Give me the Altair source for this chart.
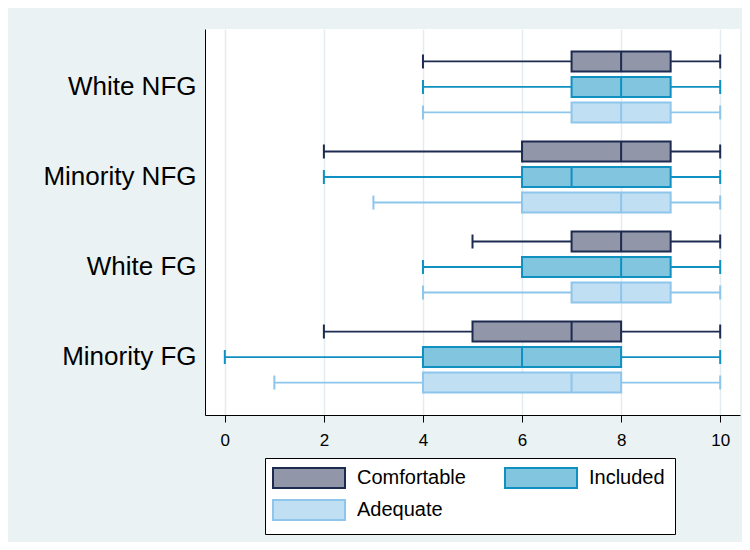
import altair as alt
import pandas as pd

groups = ["White NFG", "Minority NFG", "White FG", "Minority FG"]
measures = ["Comfortable", "Included", "Adequate"]

# per group (rows) and measure (columns: Comfortable, Included, Adequate)
lo_whisker = [[4, 4, 4], [2, 2, 3], [5, 4, 4], [2, 0, 1]]
q1 = [[7, 7, 7], [6, 6, 6], [7, 6, 7], [5, 4, 4]]
median = [[8, 8, 8], [8, 7, 8], [8, 8, 8], [7, 6, 7]]
q3 = [[9, 9, 9], [9, 9, 9], [9, 9, 9], [8, 8, 8]]
hi_whisker = [[10, 10, 10], [10, 10, 10], [10, 10, 10], [10, 10, 10]]

x_ticks = [0, 2, 4, 6, 8, 10]

fill_colors = ["#9196a9", "#82c5df", "#c1dff3"]
stroke_colors = ["#1d2b50", "#0f90c0", "#8ec5eb"]

rows = []
for gi, g in enumerate(groups):
    for mi, m in enumerate(measures):
        rows.append({
            "group": g, "measure": m, "line_measure": m,
            "lo": lo_whisker[gi][mi], "q1": q1[gi][mi], "median": median[gi][mi],
            "q3": q3[gi][mi], "hi": hi_whisker[gi][mi],
        })
df = pd.DataFrame(rows)

FONT = "Liberation Sans"

y_enc = alt.Y("group:N", sort=groups, title=None,
              scale=alt.Scale(paddingInner=0, paddingOuter=0.144))
yoff_enc = alt.YOffset("measure:N", sort=measures,
                       scale=alt.Scale(paddingInner=0, paddingOuter=0.265))
x_scale = alt.Scale(domain=[-0.4, 10.4], nice=False, zero=False)
x_axis = alt.Axis(values=x_ticks, labelFontSize=17)

line_color = alt.Color("line_measure:N", sort=measures,
                       scale=alt.Scale(range=stroke_colors), legend=None)

base = alt.Chart(df)

whiskers = base.mark_rule(strokeWidth=1.8).encode(
    x=alt.X("lo:Q", scale=x_scale, axis=x_axis, title=None),
    x2="hi:Q",
    y=y_enc, yOffset=yoff_enc, color=line_color,
)

boxes = base.mark_bar(size=20, strokeWidth=2).encode(
    x=alt.X("q1:Q", scale=x_scale, axis=x_axis, title=None),
    x2="q3:Q",
    y=y_enc, yOffset=yoff_enc,
    fill=alt.Fill("measure:N", sort=measures, title=None,
                  scale=alt.Scale(domain=measures, range=fill_colors)),
    stroke=alt.Stroke("measure:N", sort=measures, title=None,
                      scale=alt.Scale(domain=measures, range=stroke_colors)),
)

medians = base.mark_tick(orient="vertical", size=20, thickness=2, opacity=1).encode(
    x=alt.X("median:Q", scale=x_scale, axis=x_axis, title=None),
    y=y_enc, yOffset=yoff_enc, color=line_color,
)

caps_lo = base.mark_tick(orient="vertical", size=14, thickness=2, opacity=1).encode(
    x=alt.X("lo:Q", scale=x_scale, axis=x_axis, title=None),
    y=y_enc, yOffset=yoff_enc, color=line_color,
)
caps_hi = base.mark_tick(orient="vertical", size=14, thickness=2, opacity=1).encode(
    x=alt.X("hi:Q", scale=x_scale, axis=x_axis, title=None),
    y=y_enc, yOffset=yoff_enc, color=line_color,
)

chart = alt.layer(whiskers, boxes, medians, caps_lo, caps_hi).properties(
    width=535, height=386,
    autosize=alt.AutoSizeParams(type="none"),
    padding={"left": 197, "top": 21, "right": 2, "bottom": 127},
    background="#eaf2f3",
).configure_view(
    fill="white", stroke=None
).configure_axisX(
    labelFont=FONT, labelColor="black",
    tickColor="black", tickSize=7, tickWidth=1, labelPadding=10,
    domainColor="black", domainWidth=1, grid=True,
    gridColor="#e3ecee", gridWidth=1.5, labelFlush=False,
).configure_axisY(
    labelFontSize=26, labelFont=FONT, labelColor="black",
    ticks=False, tickSize=0, labelPadding=9,
    domainColor="black", domainWidth=1, grid=False,
).configure_legend(
    orient="none", legendX=60, legendY=429,
    direction="horizontal", columns=2,
    symbolType="M-1.333,-1.111H6.667V1.111H-1.333Z", symbolSize=324, symbolStrokeWidth=2,
    labelFontSize=20, labelFont=FONT, labelColor="black", labelOffset=62, labelLimit=300,
    columnPadding=35, rowPadding=4, padding=10,
    fillColor="white", strokeColor="black",
)

chart.save("out.html", embed_options={"renderer": "svg", "actions": False})
